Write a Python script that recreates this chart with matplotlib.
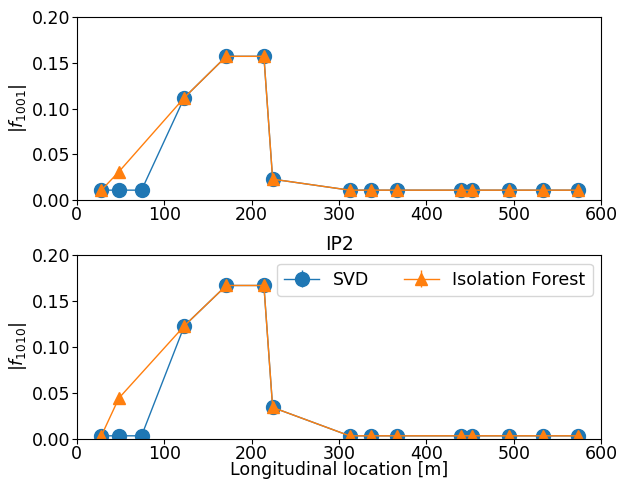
import numpy as np
import matplotlib
matplotlib.use('Agg')
import matplotlib.pyplot as plt

s_svd = [28, 48, 74, 123, 171, 214, 224, 312, 336, 366, 440, 452, 494, 533, 573]
s_if = [28, 48, 123, 171, 214, 224, 312, 336, 366, 440, 452, 494, 533, 573]

f1001_svd = [0.011, 0.011, 0.011, 0.112, 0.157, 0.157, 0.023, 0.011, 0.011, 0.011, 0.011, 0.011, 0.011, 0.011, 0.011]
f1001_if = [0.011, 0.031, 0.112, 0.157, 0.157, 0.023, 0.011, 0.011, 0.011, 0.011, 0.011, 0.011, 0.011, 0.011]

f1010_svd = [0.003, 0.003, 0.003, 0.123, 0.167, 0.167, 0.034, 0.003, 0.003, 0.003, 0.003, 0.003, 0.003, 0.003, 0.003]
f1010_if = [0.003, 0.044, 0.123, 0.167, 0.167, 0.034, 0.003, 0.003, 0.003, 0.003, 0.003, 0.003, 0.003, 0.003]

plt.rcParams['font.size'] = 12.5
plt.rcParams['xtick.major.pad'] = 1
plt.rcParams['ytick.major.pad'] = 1.5

fig, (ax1, ax2) = plt.subplots(2, 1, figsize=(6.25, 4.83), dpi=100)

for ax, ysvd, yif, lab in [(ax1, f1001_svd, f1001_if, r'$|f_{1001}|$'),
                           (ax2, f1010_svd, f1010_if, r'$|f_{1010}|$')]:
    ax.errorbar(s_svd, ysvd, yerr=np.zeros(len(ysvd)), fmt='o-', color='C0',
                markersize=10, linewidth=1, label='SVD')
    ax.errorbar(s_if, yif, yerr=np.zeros(len(yif)), fmt='^-', color='C1',
                markersize=8, linewidth=1, label='Isolation Forest')
    ax.set_xlim(0, 600)
    ax.set_ylim(0, 0.2)
    ax.set_yticks([0, 0.05, 0.1, 0.15, 0.2])
    ax.set_ylabel(lab, labelpad=2)

ax2.set_title('IP2', fontsize=13.5, pad=4)
ax2.set_xlabel('Longitudinal location [m]', labelpad=-1)
ax2.legend(ncol=2, loc='upper right')

fig.subplots_adjust(left=0.123, right=0.962, top=0.965, bottom=0.092, hspace=0.30)
fig.savefig('out.png')
